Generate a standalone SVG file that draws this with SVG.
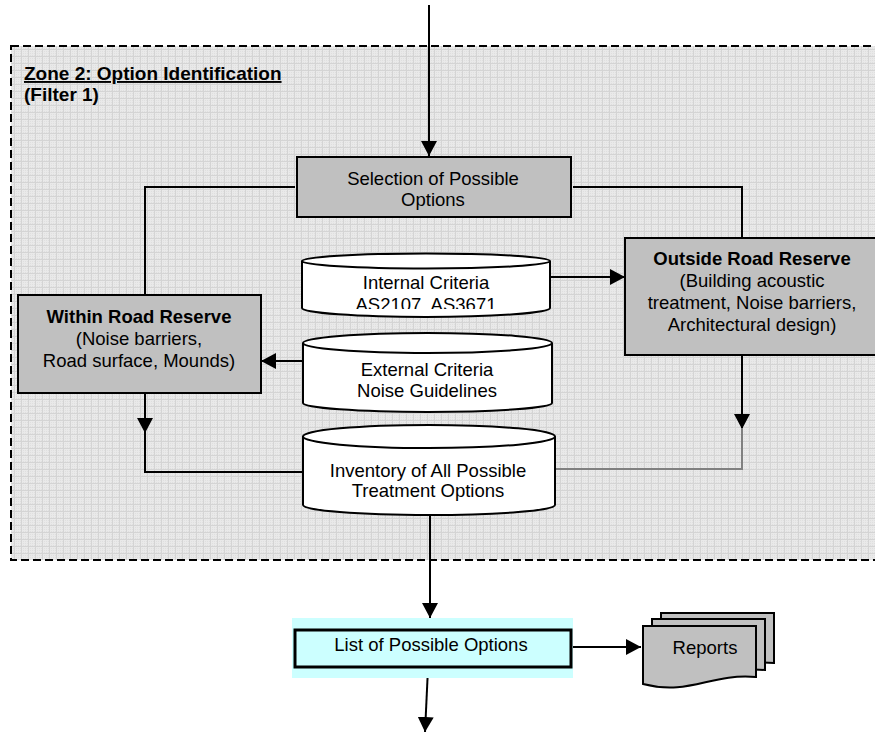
<svg xmlns="http://www.w3.org/2000/svg" width="875" height="733" viewBox="0 0 875 733">
  <style>
    text { font-family: "Liberation Sans", Arial, sans-serif; font-size: 18.5px; fill: #000; text-anchor: middle; }
    .b { font-weight: bold; }
    .box { fill: #c0c0c0; stroke: #000; stroke-width: 2; }
    .cyl { fill: #fff; stroke: #000; stroke-width: 2; }
    .rim { fill: none; stroke: #000; stroke-width: 2; }
    .wire { fill: none; stroke: #000; stroke-width: 2; }
    .arrow { fill: none; stroke: #000; stroke-width: 2; marker-end: url(#head); }
    .grey { fill: none; stroke: #808080; stroke-width: 2; }
    .doc { fill: #c0c0c0; stroke: #000; stroke-width: 2; }
  </style>
  <defs>
    <marker id="head" markerUnits="userSpaceOnUse" markerWidth="16" markerHeight="16" refX="15" refY="8" orient="auto">
      <path d="M0,0 L15,8 L0,16 Z" fill="#000"/>
    </marker>
    <pattern id="fine" width="2" height="2" patternUnits="userSpaceOnUse">
      <rect width="2" height="2" fill="#e9e9e9"/>
      <rect width="1" height="1" fill="#dfdfdf"/>
    </pattern>
    <pattern id="grid" width="7" height="7" patternUnits="userSpaceOnUse">
      <rect width="7" height="7" fill="url(#fine)"/>
      <path d="M0,0.5 H7 M0.5,0 V7" stroke="#d4d4d4" stroke-width="1"/>
    </pattern>
    <clipPath id="clipInternal">
      <rect x="302" y="250" width="248" height="59"/>
    </clipPath>
  </defs>

  <rect width="875" height="733" fill="#fff"/>

  <!-- Zone 2 frame -->
  <g id="zone2">
    <rect x="11" y="46" width="880" height="514" fill="url(#grid)" stroke="#000" stroke-width="2" stroke-dasharray="8 4"/>
    <text class="b" x="24" y="80" style="text-anchor:start;font-size:19px;text-decoration:underline">Zone 2: Option Identification</text>
    <text class="b" x="24" y="101" style="text-anchor:start;font-size:19px">(Filter 1)</text>
  </g>

  <!-- Connectors -->
  <g id="connectors">
    <path class="arrow" d="M429,5 V156"/>
    <path class="wire" d="M295,187 H145 V295"/>
    <path class="wire" d="M573,187 H742 V238"/>
    <path class="arrow" d="M540,277 H625"/>
    <path class="arrow" d="M318,361 H261"/>
    <path class="arrow" d="M145,393 V433"/>
    <path class="wire" d="M145,432 V472 H303"/>
    <path class="arrow" d="M742,355 V429"/>
    <path class="grey" d="M742,428 V469 H555"/>
    <path class="arrow" d="M430,515 V618"/>
    <path class="arrow" d="M573,647 H641"/>
    <path class="arrow" d="M428,668 L425,732"/>
  </g>

  <g id="selection">
    <rect class="box" x="297" y="157" width="274" height="60"/>
    <text x="433" y="185">Selection of Possible</text>
    <text x="433" y="206">Options</text>
  </g>

  <g id="within">
    <rect class="box" x="18" y="295" width="243" height="98"/>
    <text class="b" x="139" y="323">Within Road Reserve</text>
    <text x="139" y="345">(Noise barriers,</text>
    <text x="139" y="367">Road surface, Mounds)</text>
  </g>

  <g id="outside">
    <rect class="box" x="625" y="238" width="270" height="117"/>
    <text class="b" x="752" y="265">Outside Road Reserve</text>
    <text x="752" y="287">(Building acoustic</text>
    <text x="752" y="309">treatment, Noise barriers,</text>
    <text x="752" y="331">Architectural design)</text>
  </g>

  <g id="internal">
    <path class="cyl" d="M302,261 A124,7.5 0 0,1 550,261 V308 A124,9 0 0,1 302,308 Z"/>
    <path class="rim" d="M302,261 A124,7.5 0 0,0 550,261"/>
    <g clip-path="url(#clipInternal)">
      <text x="426" y="289">Internal Criteria</text>
      <text x="426" y="311">AS2107, AS3671</text>
    </g>
  </g>

  <g id="external">
    <path class="cyl" d="M303,343 A124.5,10 0 0,1 552,343 V403 A124.5,9 0 0,1 303,403 Z"/>
    <path class="rim" d="M303,343 A124.5,10 0 0,0 552,343"/>
    <text x="427" y="376">External Criteria</text>
    <text x="427" y="397">Noise Guidelines</text>
  </g>

  <g id="inventory">
    <path class="cyl" d="M303,436.5 A126,11.5 0 0,1 555,436.5 V505 A126,10 0 0,1 303,505 Z"/>
    <path class="rim" d="M303,436.5 A126,11.5 0 0,0 555,436.5"/>
    <text x="428" y="477">Inventory of All Possible</text>
    <text x="428" y="497">Treatment Options</text>
  </g>

  <g id="list">
    <rect x="292" y="618" width="281" height="60" fill="#ccffff"/>
    <rect x="295" y="630" width="276" height="37" fill="#ccffff" stroke="#000" stroke-width="3"/>
    <text x="431" y="651">List of Possible Options</text>
  </g>

  <g id="reports">
    <path class="doc" d="M661,613 H774 V663 C728,659 708,682 661,670 Z"/>
    <path class="doc" d="M652,619 H765 V670 C719,666 699,689 652,677 Z"/>
    <path class="doc" d="M643,626 H756 V677 C710,673 690,696 643,684 Z"/>
    <text x="705" y="654">Reports</text>
  </g>
</svg>
